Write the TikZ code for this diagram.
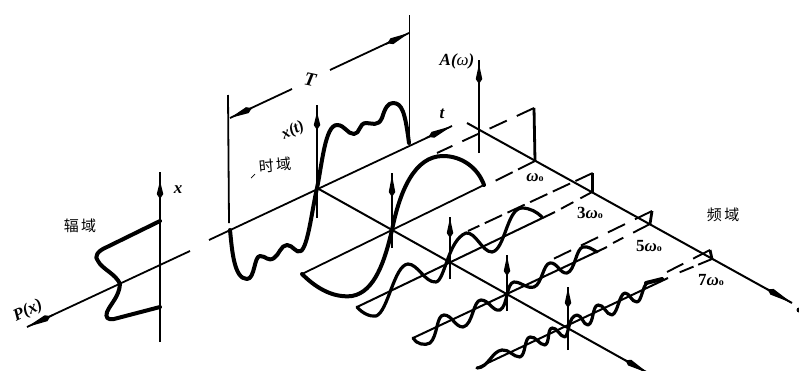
\documentclass[tikz,border=0pt]{standalone}
\usepackage{fontspec}
\setmainfont{Liberation Serif}
\newfontfamily\cjk{Noto Sans CJK SC}
\usetikzlibrary{arrows.meta}
\tikzset{
  thinline/.style={line width=1.8pt,black},
  axisline/.style={line width=2pt,black},
  spin/.style={-{Kite[length=#1,width=6.5pt,inset=5pt]},line width=1.6pt,black},
  spin/.default=18pt,
  wave/.style={line width=3.2pt,black,line cap=round,line join=round},
  heavy/.style={line width=4pt,black,line cap=round,line join=round},
  specline/.style={line width=2.8pt,black},
  dashu/.style={line width=1.9pt,black,dash pattern=on 19pt off 11pt},
  dashv/.style={line width=1.9pt,black,dash pattern=on 19pt off 6pt},
  dashw/.style={line width=1.9pt,black,dash pattern=on 14pt off 8pt},
  dashx/.style={line width=1.9pt,black,dash pattern=on 15pt off 5pt},
  lab/.style={inner sep=0pt,font=\bfseries\itshape\fontsize{17}{17}\selectfont},
  wlab/.style={inner sep=0pt,font=\bfseries\fontsize{17}{17}\selectfont},
  cn/.style={inner sep=0pt,font=\cjk\fontsize{15}{15}\selectfont},
}
\newcommand{\wo}{{\itshape ω}{\fontsize{10}{10}\selectfont o}}
\begin{document}
\begin{tikzpicture}[x=1pt,y=-1pt]
\useasboundingbox (0,0) rectangle (799,370);
% key points
\coordinate (O1) at (317,188);
\coordinate (F1) at (535,161);
\coordinate (F3) at (592.7,191.7);
\coordinate (F5) at (650,224);
\coordinate (F7) at (712,259);
% amplitude axes
\coordinate (px) at (27,327);
\coordinate (pa) at (53,315);
\coordinate (pe) at (190,251);
\draw[thinline] (pe) -- (px);
\draw[spin=26pt] (pa) -- (px);
\coordinate (xb) at (160,342);\coordinate (xt) at (160,172);
\coordinate (xa) at (160,199);\coordinate (xh) at (160,181);
\draw[thinline] (xb) -- (xt);
\draw[spin] (xa) -- (xh);
\draw[heavy] (160,221) -- (107,247) .. controls (97,251) and (94,257) .. (98,261)
  .. controls (102,269) and (116,274) .. (120,284)
  .. controls (119,297) and (111,303) .. (107,312)
  .. controls (105,318) and (108,320) .. (114,319) -- (160,307);
% time axis
\coordinate (ts) at (209,240);\coordinate (te) at (452,126);\coordinate (ta) at (426,138);
\draw[thinline] (ts) -- (te);
\draw[spin=26pt] (ta) -- (te);
% T dimension
\coordinate (Ta) at (228,95);\coordinate (Tb) at (229,223);
\coordinate (Tc) at (409.5,15);\coordinate (Td) at (409.5,143);
\draw[thinline] (Ta) -- (Tb);
\draw[thinline] (Tc) -- (Td);
\node[lab,rotate=-12,font=\bfseries\itshape\fontsize{19}{19}\selectfont] (T) at (310,80) {T};
\coordinate (T1) at (230,118);\coordinate (T1e) at (292,89);
\coordinate (T1a) at (252,108);
\coordinate (T2) at (409,33);\coordinate (T2s) at (330,70);\coordinate (T2a) at (386,44);
\draw[thinline] (T1) -- (T1e);
\draw[spin=24pt] (T1a) -- (T1);
\draw[thinline] (T2s) -- (T2);
\draw[spin=24pt] (T2a) -- (T2);
% time wave
\coordinate (xtb) at (317,218);\coordinate (xtt) at (317,105);
\coordinate (xta) at (317,129);\coordinate (xth) at (317,112);
\draw[thinline] (xtb) -- (xtt);
\draw[spin] (xta) -- (xth);
\draw[heavy] (230,230) .. controls (232,250) and (234,279) .. (247,279)
  .. controls (255,279) and (254,256) .. (260,256)
  .. controls (266,256) and (268,262) .. (274,258)
  .. controls (279,255) and (281,245) .. (287,245)
  .. controls (293,245) and (296,254) .. (301,251)
  .. controls (308,246) and (312,210) .. (317,188)
  .. controls (322,165) and (325,125) .. (337,125)
  .. controls (345,125) and (347,134) .. (354,134)
  .. controls (360,134) and (359,123) .. (366,123)
  .. controls (372,123) and (378,127) .. (382,118)
  .. controls (385,108) and (388,103) .. (393,103)
  .. controls (402,103) and (405,112) .. (409,143);
% fundamental
\coordinate (a1) at (302,274);\coordinate (a1e) at (484,185);
\draw[thinline] (a1) -- (a1e);
\coordinate (v1b) at (392,248);\coordinate (v1t) at (392,173);
\coordinate (v1a) at (392,197);\coordinate (v1h) at (392,175);
\draw[thinline] (v1b) -- (v1t);
\draw[spin=22pt] (v1a) -- (v1h);
\draw[heavy] (302,274) .. controls (318,290) and (335,298) .. (352,296)
  .. controls (375,292) and (385,260) .. (392,230)
  .. controls (400,190) and (415,156) .. (443,156)
  .. controls (462,156) and (478,168) .. (484,185);
% third
\coordinate (a3) at (357,307);\coordinate (a3e) at (555,212);
\draw[axisline] (a3) -- (a3e);
\coordinate (v3b) at (450,279);\coordinate (v3t) at (450,217);
\coordinate (v3a) at (450,238);\coordinate (v3h) at (450,218);
\draw[thinline] (v3b) -- (v3t);
\draw[spin=20pt] (v3a) -- (v3h);
\draw[wave] (357,307) .. controls (362,313) and (370,317) .. (376,316)
  .. controls (388,312) and (394,265) .. (408,264)
  .. controls (418,264) and (425,283) .. (436,282)
  .. controls (445,280) and (448,240) .. (466,233)
  .. controls (476,232) and (482,252) .. (492,252)
  .. controls (505,250) and (507,208) .. (522,208)
  .. controls (530,208) and (537,212) .. (542,217);
% fifth
\coordinate (a5) at (413,338);\coordinate (a5e) at (607,247);
\draw[axisline] (a5) -- (a5e);
\coordinate (v5b) at (507,311);\coordinate (v5t) at (507,255);
\coordinate (v5a) at (507,276);\coordinate (v5h) at (507,256);
\draw[thinline] (v5b) -- (v5t);
\draw[spin=20pt] (v5a) -- (v5h);
\draw[wave] (413,338) .. controls (416,344) and (425,346) .. (430,343)
  .. controls (438,336) and (436,315) .. (444,315)
  .. controls (452,315) and (455,327) .. (463,327)
  .. controls (473,325) and (473,300) .. (481,300)
  .. controls (489,300) and (493,312) .. (500,310)
  .. controls (508,306) and (506,283) .. (514,282)
  .. controls (522,282) and (526,289) .. (534,287)
  .. controls (542,284) and (543,264) .. (550,263)
  .. controls (557,262) and (560,274) .. (567,273)
  .. controls (575,271) and (576,248) .. (583,247)
  .. controls (588,246) and (592,249) .. (597,252);
% seventh
\coordinate (a7) at (477,368);\coordinate (a7e) at (668,278);
\draw[axisline] (a7) -- (a7e);
\coordinate (v7b) at (568,350);\coordinate (v7t) at (568,287);
\coordinate (v7a) at (568,307);\coordinate (v7h) at (568,288);
\draw[thinline] (v7b) -- (v7t);
\draw[spin=20pt] (v7a) -- (v7h);
\draw[wave] (477,368) .. controls (488,368) and (492,351) .. (502,350)
  .. controls (509,349) and (513,357) .. (520,357)
  .. controls (526,355) and (524,338) .. (530,337)
  .. controls (536,336) and (539,345) .. (545,345)
  .. controls (550,343) and (547,329) .. (552,328)
  .. controls (557,327) and (560,337) .. (565,337)
  .. controls (569,335) and (568,316) .. (577,315)
  .. controls (582,315) and (583,325) .. (588,325)
  .. controls (594,323) and (592,306) .. (598,305)
  .. controls (604,304) and (606,315) .. (612,315)
  .. controls (618,313) and (619,294) .. (625,293)
  .. controls (630,293) and (631,302) .. (637,302)
  .. controls (642,301) and (642,286) .. (648,282);
\draw[line width=4pt,line cap=round] (646,283) -- (662,279);
% frequency axes
\coordinate (fs) at (467,123);\coordinate (fe) at (792,303);\coordinate (fa) at (767,289);
\draw[axisline] (fs) -- (fe);
\draw[spin=28pt] (fa) -- (fe);
\coordinate (ge) at (648,373);\coordinate (ga) at (625,360);
\draw[axisline] (O1) -- (ge);
\draw[spin=26pt] (ga) -- (ge);
% A axis
\coordinate (Ab) at (479,153);\coordinate (At) at (479,60);
\coordinate (Aa) at (479,84);\coordinate (Ah) at (479,64);
\draw[thinline] (Ab) -- (At);
\draw[spin=20pt] (Aa) -- (Ah);
% spectrum
\coordinate (s1) at (534,108);
\coordinate (s3) at (592.7,173);
\coordinate (s5) at (652,211);
\coordinate (s7) at (710,250);
\draw[specline] (F1) -- (s1);
\draw[specline] (F3) -- (s3);
\draw[specline] (F5) -- (s5);
\draw[specline] (F7) -- (s7);
% dashes, drawn from the spectral line towards the wave
\coordinate (u1) at (437,153);
\coordinate (u3) at (468,231);
\coordinate (u5) at (545,263);
\coordinate (u7) at (667,272);
\coordinate (l1) at (495,181);
\coordinate (l5) at (613,243);
\coordinate (l7) at (678,273);
\draw[dashu] (s1) -- (u1);
\draw[dashv] (F1) -- (l1);
\draw[dashv] (s3) -- (u3);
\draw[dashw] (F3) -- (a3e);
\draw[dashu] (s5) -- (u5);
\draw[dashu] (F5) -- (l5);
\draw[dashu] (s7) -- (u7);
\draw[dashx] (F7) -- (l7);
% small marks
\coordinate (m1) at (251,178);\coordinate (m2) at (255,174);
\draw[line width=0.7pt] (m1) -- (m2);
\fill (799,310) circle (2.5pt);
% labels
\node[lab,rotate=25] (Px) at (28,311) {P(x)};
\node[lab] (xl) at (178,190) {x};
\node[lab,rotate=25,font=\bfseries\itshape\fontsize{16}{16}\selectfont] (xtl) at (293,131) {x(t)};
\node[lab] (tl) at (442,114) {t};
\node[lab] (Al) at (457,61) {A({\mdseries ω})};
\node[wlab] (w1) at (535,178) {\wo};
\node[wlab] (w3) at (590,213) {3\wo};
\node[wlab] (w5) at (649,246) {5\wo};
\node[wlab] (w7) at (711,280) {7\wo};
\node[cn] (d1) at (80,226) {辐\,域};
\node[cn,rotate=5] (d2) at (275,165) {时\,域};
\node[cn] (d3) at (723,215) {频\,域};
\end{tikzpicture}
\end{document}
